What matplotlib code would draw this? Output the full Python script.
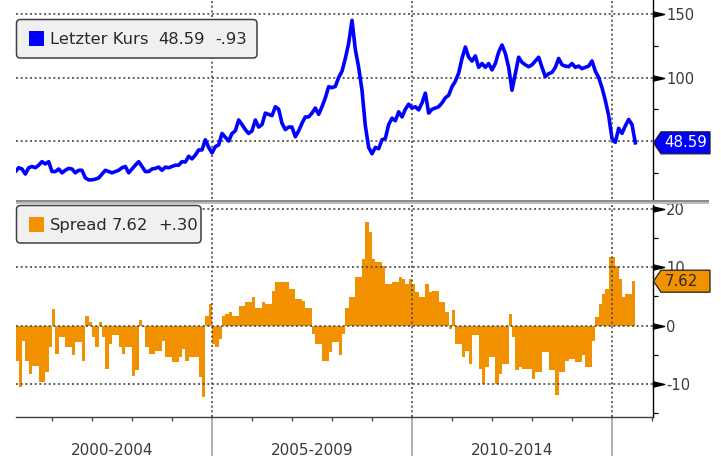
import matplotlib
matplotlib.use('Agg')
import matplotlib.pyplot as plt
import matplotlib.transforms as mtransforms
from matplotlib.patches import FancyBboxPatch, Polygon, Rectangle
from matplotlib.path import Path
import numpy as np

# ---------------- data (monthly, Jan 2000 - Jul 2015) ----------------
start_year = 2000
price = [
    25.9, 29, 28, 24, 29, 30, 29, 31, 33.8, 32, 33.8, 26,          # 2000
    26, 28, 25, 27, 28.5, 28, 25, 27, 27, 21, 19.4, 19.5,          # 2001
    20, 21, 24, 27, 26, 25, 26, 27, 29, 30, 25, 28,                # 2002
    31, 33.8, 30, 26, 26, 28, 28.5, 29.5, 27, 29.5, 29, 30,        # 2003
    31, 31, 33.8, 33.5, 38, 36, 39, 43, 43, 51, 45, 40.6,          # 2004
    45.6, 47, 56, 53, 50, 56, 58, 66.6, 63, 59, 56, 58,            # 2005
    66.6, 61, 63, 72, 71, 70, 77, 75, 64, 59, 61, 61,              # 2006
    53.4, 58, 64, 69, 69, 72, 76, 71, 77, 84, 92.8, 92,            # 2007
    93, 100, 105, 115, 127, 145, 122, 108, 90, 62, 45, 40,         # 2008
    45, 44, 51, 52, 63, 68, 66, 73, 69, 75, 79, 76,                # 2009
    77, 74.5, 80, 87.7, 72, 75, 76, 77, 80, 84, 86, 92.8,          # 2010
    97, 103.5, 115, 124, 116, 113, 117, 108, 111, 108, 111, 106,   # 2011
    111, 120, 125.6, 119, 108, 90, 103, 116, 112, 110, 108.5, 110, # 2012
    113, 116, 108, 100.7, 103, 104, 108, 115, 110, 109, 108.5, 111,# 2013
    108, 109, 107, 108, 109, 113, 105, 100, 92, 82, 70, 52,        # 2014
    49, 60, 56, 62, 67, 63, 48.59,                                 # 2015
]
spread = [
    -6.3, -6, -10.6, -2.6, -6, -8.3, -7, -7, -9.7, -9.7, -8, -3.7,        # 2000
    2.9, -4.9, -2, -2, -3.7, -3.7, -5.1, -2.9, -2.9, -6, 1.7, 0.6,        # 2001
    -2, -3.7, 0.6, -2, -7.4, -3.1, -1.7, -1.7, -3.7, -4.9, -3.7, -3.7,    # 2002
    -8.6, -7.7, 0.9, -0.3, -3.7, -4.9, -4.9, -4.3, -4.3, -2.6, -5.4, -5.4,# 2003
    -6.3, -6.3, -5.4, -4, -6, -5.4, -5.4, -5.4, -8.9, -12.3, 1.7, 3.7,    # 2004
    -3.1, -3.7, -2.3, 1.7, 2, 2.3, 1.7, 1.7, 3.4, 3.4, 4, 4,              # 2005
    4.9, 3.1, 3.1, 4, 3.7, 3.7, 6, 7.4, 7.4, 7.4, 7.4, 6.3,               # 2006
    6.3, 4.6, 4.6, 4.3, 3.1, 3.1, -1.4, -3.1, -3.1, -6, -6, -4.6,         # 2007
    -2.9, -2.9, -5.1, -1.4, 3.1, 4.9, 4.9, 8.3, 8.3, 11.4, 17.7, 16,      # 2008
    11.4, 10.9, 10.9, 10.3, 7.1, 7.1, 7.4, 7.4, 8.3, 8, 7.1, 8,           # 2009
    7.1, 5.7, 4.9, 4.9, 7.1, 5.7, 6, 6, 4, 4, 2.3, -0.6,                  # 2010
    2.6, -3.1, -3.1, -5.4, -4.3, -6.6, -1.7, -1.7, -7.4, -10, -7.1, -5.4, # 2011
    -5.4, -10, -8.3, -6.6, -6.6, 2, -2, -7.7, -7.1, -7.4, -7.4, -7.4,     # 2012
    -9.1, -8, -8, -4.6, -4.6, -7.7, -7.7, -12, -8, -8, -6, -5.7,          # 2013
    -5.7, -6.3, -6.3, -5.1, -7.1, -7.1, -2.6, 1.4, 3.7, 5.4, 6.3, 11.7,   # 2014
    11.7, 10.3, 8, 4.9, 5.4, 5.4, 7.62,                                   # 2015
]
price_label = "Letzter Kurs"
price_last = "48.59"
price_change = "-.93"
spread_label = "Spread"
spread_last = "7.62"
spread_change = "+.30"
period_edges = [2000, 2005, 2010, 2015]
period_labels = ["2000-2004", "2005-2009", "2010-2014"]
price_major = [50, 100, 150]
price_labels = ["", "100", "150"]
price_minor = [25, 75, 125]
spread_major = [-10, 0, 10, 20]
spread_labels = ["-10", "0", "10", "20"]
spread_minor = [-15, -5, 5, 15]

# ---------------- styling ----------------
BLUE = '#0000ff'
ORANGE = '#f29100'
TXT = '#3a3a3a'
W, H = 721, 461
XLIM = (2000.1, 2016.025)

fig = plt.figure(figsize=(W / 100, H / 100), dpi=100)
fig.patch.set_facecolor('white')


def px_axes(left, top, right, bottom):
    return fig.add_axes([left / W, 1 - bottom / H, (right - left) / W, (bottom - top) / H])


ax1 = px_axes(16, 0, 653, 199)
ax2 = px_axes(16, 205, 653, 417)

n = len(price)
line_dates = start_year + (np.arange(n) + 1) / 12.0
bar_centers = start_year + (np.arange(len(spread)) + 0.5) / 12.0

grid_kw = dict(color='#4a4a4a', linestyle=(0, (1.2, 1.6)), linewidth=1.2)

# triangle tick marker (origin at left tip base)
tri = Path([(0, 0.23), (1, 0), (0, -0.23), (0, 0.23)],
           [Path.MOVETO, Path.LINETO, Path.LINETO, Path.CLOSEPOLY])


def style_axis(ax, majors, labels, minors, ylim):
    ax.set_xlim(*XLIM)
    ax.set_ylim(*ylim)
    ax.yaxis.tick_right()
    ax.set_yticks(majors)
    ax.set_yticklabels(labels)
    ax.set_yticks(minors, minor=True)
    ax.tick_params(axis='y', which='major', length=0, pad=9.5, labelsize=10.6, labelcolor=TXT)
    ax.tick_params(axis='y', which='minor', length=3.8, width=0.9, color='black')
    ax.set_xticks(period_edges[1:])
    ax.grid(True, axis='both', which='major', **grid_kw)
    ax.set_axisbelow(False)
    for s in ('left', 'top'):
        ax.spines[s].set_visible(False)
    ax.spines['right'].set_color('black')
    ax.spines['right'].set_linewidth(1.0)
    shown = [m for m, l in zip(majors, labels) if l]
    ax.plot([1] * len(shown), shown, transform=ax.get_yaxis_transform(), linestyle='none',
            marker=tri, markersize=16, color='black', clip_on=False, zorder=5)


# ---- top panel ----
style_axis(ax1, price_major, price_labels, price_minor, (4.4, 161))
ax1.plot(line_dates, price, color=BLUE, linewidth=2.6, solid_joinstyle='round', zorder=3)
ax1.spines['bottom'].set_visible(False)
ax1.tick_params(axis='x', which='both', length=0, labelbottom=False)

# ---- bottom panel ----
style_axis(ax2, spread_major, spread_labels, spread_minor, (-15.7, 20.7))
ax2.bar(bar_centers, spread, width=1 / 12.0, color=ORANGE, linewidth=0, zorder=1)
ax2.spines['bottom'].set_color('#404040')
ax2.spines['bottom'].set_linewidth(1.0)
ax2.set_xticks(np.arange(2001, 2017), minor=True)
ax2.tick_params(axis='x', which='minor', length=3.2, width=0.9, color='#404040', direction='out')
ax2.tick_params(axis='x', which='major', length=0, labelbottom=False)

axes_h = 417 - 205
for edge in period_edges[1:]:
    ax2.plot([edge, edge], [0, -38 / axes_h], transform=ax2.get_xaxis_transform(),
             color='#a8a8a8', linewidth=1.3, clip_on=False, zorder=0)
for lo, hi, lab in zip(period_edges[:-1], period_edges[1:], period_labels):
    ax2.text((lo + hi) / 2, -33 / axes_h, lab, transform=ax2.get_xaxis_transform(),
             ha='center', va='center', fontsize=11, color=TXT)

# ---------------- figure-pixel decorations ----------------
px = mtransforms.Affine2D().scale(1 / W, -1 / H).translate(0, 1) + fig.transFigure

# separator bar
fig.patches.append(Rectangle((16, 199.5), 693, 2.5, transform=px, facecolor='#8c8c8c',
                             edgecolor='none', zorder=4))
fig.patches.append(Rectangle((16, 202), 693, 2.0, transform=px, facecolor='#bdbdbd',
                             edgecolor='none', zorder=4))


def legend_box(x0, y0, x1, y1, color, parts):
    fig.patches.append(FancyBboxPatch((x0, y0), x1 - x0, y1 - y0,
                                      boxstyle='round,pad=0,rounding_size=4', transform=px,
                                      facecolor='#f0f0f0', edgecolor='#404040', linewidth=1.1,
                                      zorder=6))
    yc = (y0 + y1) / 2
    fig.patches.append(Rectangle((28.5, yc - 7.5), 15, 15, transform=px, facecolor=color,
                                 edgecolor='none', zorder=7))
    for xpos, s in parts:
        fig.text(xpos, yc + 1, s, transform=px, ha='left', va='center', fontsize=11.8,
                 color='#2a2a2a', zorder=8)


legend_box(16.5, 19.5, 257, 58, BLUE,
           [(50, price_label), (158, price_last), (215, price_change)])
legend_box(16.5, 205.5, 201, 243, ORANGE,
           [(50, spread_label), (112, spread_last), (158, spread_change)])


def value_tag(ax, value, face, tcolor, text):
    disp_y = ax.transData.transform((XLIM[1], value))[1]
    yc = H - disp_y
    h = 11
    pts = [(653.5, yc), (661, yc - h), (710, yc - h), (710, yc + h), (661, yc + h)]
    fig.patches.append(Polygon(pts, closed=True, transform=px, facecolor=face,
                               edgecolor='#202020', linewidth=0.9, zorder=6))
    fig.text(664.5, yc, text, transform=px, ha='left', va='center', fontsize=10.8,
             color=tcolor, zorder=8)


value_tag(ax1, price[-1], BLUE, 'white', price_last)
value_tag(ax2, spread[-1], ORANGE, '#2a2a2a', spread_last)

fig.savefig('out.png', dpi=100, facecolor='white')
